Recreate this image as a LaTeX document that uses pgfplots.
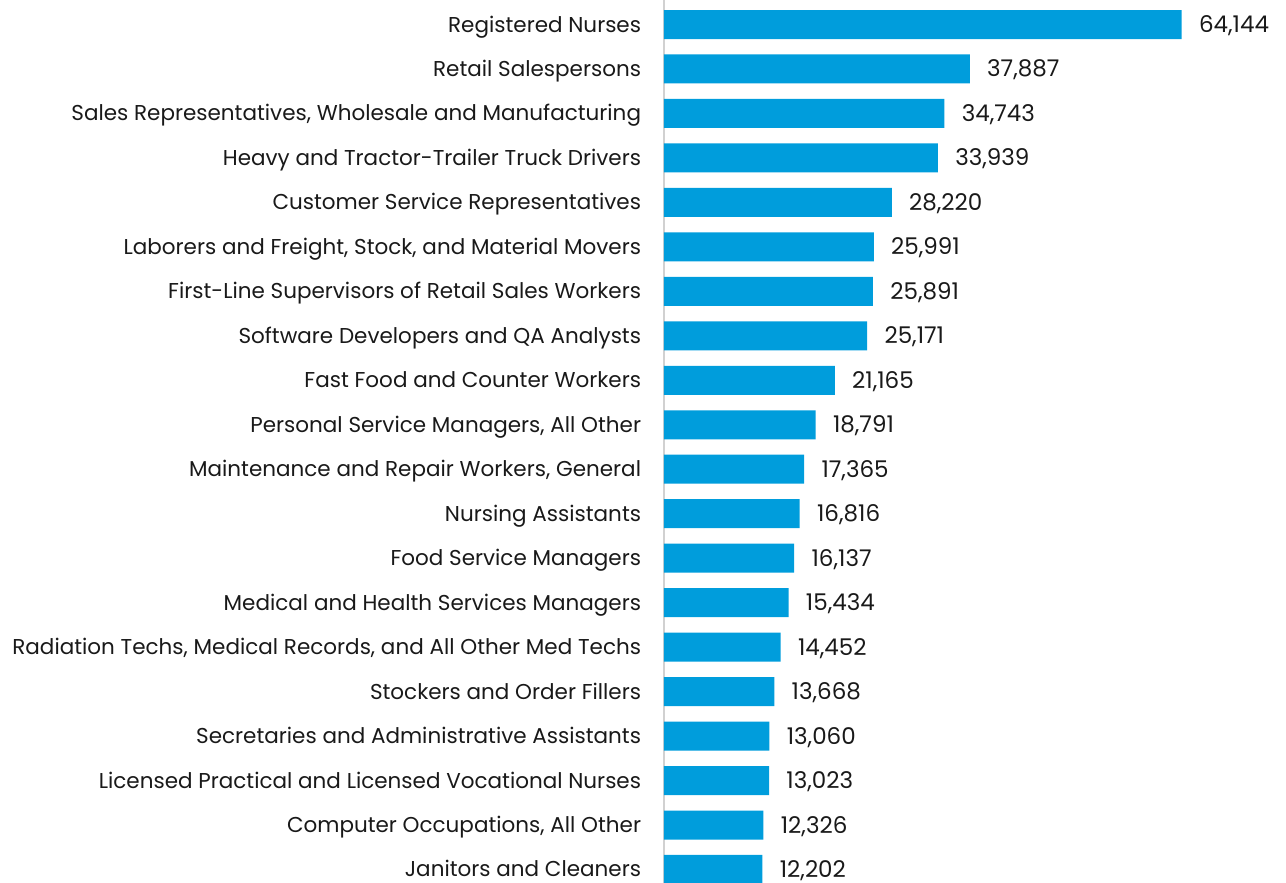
\documentclass[border=0pt]{standalone}
\usepackage{pgfplots}
\pgfplotsset{compat=1.18}
\usepackage{fontspec}
\setmainfont{Poppins}
\definecolor{barblue}{RGB}{0,157,220}
\begin{document}
\begin{tikzpicture}
\begin{axis}[
  at={(0,0)}, anchor=south west,
  scale only axis,
  width=311pt, height=441.5pt,
  xbar, bar width=14.5pt,
  xmin=0, xmax=77066,
  ymin=-0.551, ymax=19.304,
  y dir=reverse,
  axis x line=none,
  axis y line*=left,
  y axis line style={draw=black!18, line width=1pt, -},
  ytick={0,...,19},
  ytick style={draw=none},
  yticklabels={Registered Nurses, Retail Salespersons, {Sales Representatives, Wholesale and Manufacturing}, Heavy and Tractor-Trailer Truck Drivers, Customer Service Representatives, {Laborers and Freight, Stock, and Material Movers}, First-Line Supervisors of Retail Sales Workers, Software Developers and QA Analysts, Fast Food and Counter Workers, {Personal Service Managers, All Other}, {Maintenance and Repair Workers, General}, Nursing Assistants, Food Service Managers, Medical and Health Services Managers, {Radiation Techs, Medical Records, and All Other Med Techs}, Stockers and Order Fillers, Secretaries and Administrative Assistants, Licensed Practical and Licensed Vocational Nurses, {Computer Occupations, All Other}, Janitors and Cleaners},
  yticklabel style={font=\fontsize{10.75pt}{12pt}\selectfont, inner sep=0pt, anchor=east, text height=7.5pt, text depth=0pt, xshift=-7pt, text=black!90},
  nodes near coords={\pgfmathprintnumber[1000 sep={,}, assume math mode=true]{\pgfplotspointmeta}},
  nodes near coords style={font=\fontsize{11.5pt}{13pt}\selectfont, anchor=west, inner sep=0pt, text height=8pt, text depth=0pt, xshift=8.5pt, text=black!90},
]
\addplot[fill=barblue, draw=none] coordinates {
(64144,0) (37887,1) (34743,2) (33939,3) (28220,4) (25991,5) (25891,6) (25171,7) (21165,8) (18791,9)
(17365,10) (16816,11) (16137,12) (15434,13) (14452,14) (13668,15) (13060,16) (13023,17) (12326,18) (12202,19)
};
\end{axis}
\pgfresetboundingbox
\path (-332pt,0) rectangle (311pt,441.5pt);
\end{tikzpicture}
\end{document}
